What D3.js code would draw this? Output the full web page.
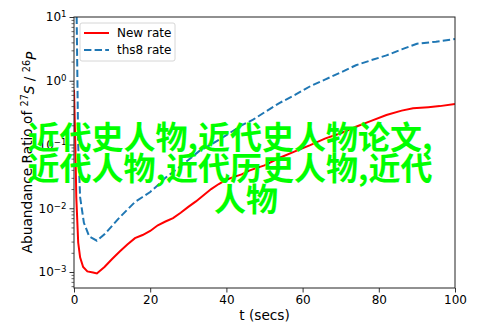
<!DOCTYPE html>
<html><head><meta charset="utf-8">
<script src="https://cdn.jsdelivr.net/npm/d3@7"></script>
<style>
body{margin:0;background:#fff}
svg{display:block}
text{font-family:"DejaVu Sans",sans-serif}
</style>
</head><body>
<svg id="c" width="493" height="329"></svg>
<script>
// ---- data ----
const seriesNames = ["New rate", "ths8 rate"];
const tNew = [0,0.35,0.6,1.1,1.6,2.4,3.5,5,6,8,10,12,14,16,18,20,22,24,26,28,30,32,34,36,38,40,42,44,46,48,50,54,58,62,66,70,74,78,82,86,89,93,96,100];
const vNew = [0.72,0.1,0.015,0.0029,0.0017,0.0012,0.00102,0.00098,0.00095,0.0012,0.0016,0.0021,0.0027,0.0034,0.0038,0.0044,0.0054,0.0062,0.007,0.0085,0.0105,0.0128,0.016,0.02,0.024,0.028,0.031,0.034,0.039,0.043,0.047,0.062,0.078,0.098,0.125,0.15,0.19,0.235,0.29,0.34,0.37,0.385,0.4,0.43];
const tThs8 = [0,0.7,0.9,1.1,1.6,2.6,4,6,8,10,12,14,16,18,20,22,24,26,28,30,33,36,40,44,47,50,54,58,62,66,70,74,78,82,86,90,95,100];
const vThs8 = [1000,10,1,0.1,0.015,0.0059,0.0036,0.0031,0.0039,0.0053,0.0072,0.0095,0.0125,0.015,0.018,0.023,0.03,0.037,0.046,0.057,0.08,0.1,0.14,0.2,0.245,0.32,0.45,0.6,0.82,1.05,1.35,1.75,2.1,2.5,3.1,3.8,4.1,4.5];
const xTicks = [0,20,40,60,80,100];
const yTickExps = [-3,-2,-1,0,1];
const overlayLines = ["近代史人物,近代史人物论文,", "近代人物,近代历史人物,近代", "人物"];

// ---- layout ----
const L = 74, R = 455, T = 17, B = 288;
const svg = d3.select("#c");
const x = d3.scaleLinear().domain([0, 100]).range([L, R]);
const yMin = Math.pow(10, -3 - 16 / 63.75);
const y = d3.scaleLog().domain([yMin, 10]).range([B, T]);

svg.append("defs").append("clipPath").attr("id", "clip")
  .append("rect").attr("x", L).attr("y", T).attr("width", R - L).attr("height", B - T);

// axes
const fs = 12, fsLab = 13.7, fsSup = 8.6;
const xAxis = svg.append("g").attr("transform", `translate(0,${B})`)
  .call(d3.axisBottom(x).tickValues(xTicks).tickSize(4.5).tickPadding(3).tickFormat(d3.format("d")));
xAxis.select(".domain").remove();
xAxis.selectAll("text").attr("font-size", fs).attr("font-family", "DejaVu Sans").attr("fill", "#000");
xAxis.selectAll("line").attr("stroke", "#000").attr("stroke-width", 0.8);

const majors = yTickExps.map(e => Math.pow(10, e));
const yAxis = svg.append("g").attr("transform", `translate(${L},0)`)
  .call(d3.axisLeft(y).tickValues(majors).tickSize(4.5).tickPadding(3).tickFormat(""));
yAxis.select(".domain").remove();
yAxis.selectAll("line").attr("stroke", "#000").attr("stroke-width", 0.8);
yAxis.selectAll(".tick text").each(function(d) {
  const e = Math.round(Math.log10(d));
  const t = d3.select(this).attr("font-size", fs).attr("font-family", "DejaVu Sans").attr("fill", "#000").text("");
  t.append("tspan").text("10");
  t.append("tspan").attr("dy", "-0.45em").attr("font-size", fsSup).text(e < 0 ? "\u2212" + (-e) : String(e));
});

const minors = [];
for (let e = -4; e <= 0; e++) for (let k = 2; k <= 9; k++) {
  const v = k * Math.pow(10, e);
  if (v >= yMin && v <= 10) minors.push(v);
}
const yMinor = svg.append("g").attr("transform", `translate(${L},0)`)
  .call(d3.axisLeft(y).tickValues(minors).tickSize(2.5).tickFormat(""));
yMinor.select(".domain").remove();
yMinor.selectAll("line").attr("stroke", "#000").attr("stroke-width", 0.6);

// lines
const line = d3.line().x(d => x(d[0])).y(d => y(d[1]));
const g = svg.append("g").attr("clip-path", "url(#clip)");
g.append("path").datum(tNew.map((t, i) => [t, vNew[i]]))
  .attr("d", line).attr("fill", "none").attr("stroke", "#ff0000").attr("stroke-width", 2);
g.append("path").datum(tThs8.map((t, i) => [t, vThs8[i]]))
  .attr("d", line).attr("fill", "none").attr("stroke", "#1f77b4").attr("stroke-width", 2)
  .attr("stroke-dasharray", "7.4,3.2");

// frame
svg.append("rect").attr("x", L).attr("y", T).attr("width", R - L).attr("height", B - T)
  .attr("fill", "none").attr("stroke", "#222").attr("stroke-width", 1);

// labels
svg.append("text").attr("x", (L + R) / 2).attr("y", 320).attr("text-anchor", "middle")
  .attr("font-size", fsLab).text("t (secs)");
const yl = svg.append("text").attr("transform", `translate(32,${(T + B) / 2}) rotate(-90)`)
  .attr("text-anchor", "middle").attr("font-size", fsLab);
yl.append("tspan").text("Abuandance Ratio of ");
yl.append("tspan").attr("dy", "-0.45em").attr("font-size", fsSup + 1).text("27");
yl.append("tspan").attr("dy", "0.45em").attr("font-style", "italic").text("S");
yl.append("tspan").text(" / ");
yl.append("tspan").attr("dy", "-0.45em").attr("font-size", fsSup + 1).text("26");
yl.append("tspan").attr("dy", "0.45em").attr("font-style", "italic").text("P");

// legend
const lg = svg.append("g");
lg.append("rect").attr("x", 80).attr("y", 23).attr("width", 95).attr("height", 38).attr("rx", 2)
  .attr("fill", "#fff").attr("fill-opacity", 0.8).attr("stroke", "#ccc").attr("stroke-width", 0.8);
const legColors = ["#ff0000", "#1f77b4"];
const legDash = [null, "7.4,3.2"];
seriesNames.forEach((n, i) => {
  const yy = 33 + i * 17;
  lg.append("line").attr("x1", 84).attr("x2", 109).attr("y1", yy).attr("y2", yy)
    .attr("stroke", legColors[i]).attr("stroke-width", 2).attr("stroke-dasharray", legDash[i]);
  lg.append("text").attr("x", 117).attr("y", yy + 4.3).attr("font-size", fs).text(n);
});

// overlay text
const ov = svg.append("g").attr("font-weight", 700).attr("font-size", 32).attr("fill", "#00ff00");
const ovX = [230, 230, 246], ovY = [149, 180, 211];
overlayLines.forEach((s, i) => {
  ov.append("text").attr("x", ovX[i]).attr("y", ovY[i]).attr("text-anchor", "middle")
    .style("font-family", "'Noto Sans CJK SC'").text(s);
});
</script>
</body></html>
